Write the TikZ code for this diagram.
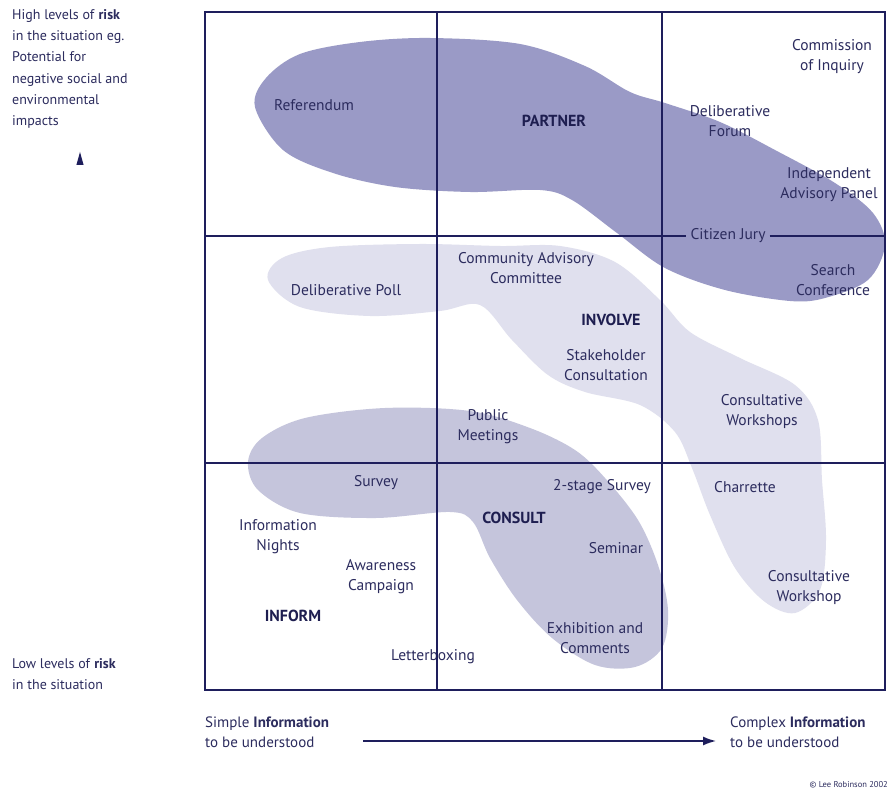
\documentclass[tikz,border=0pt]{standalone}
\usepackage{fontspec}
\setmainfont{PT Sans}
\usetikzlibrary{arrows.meta}
\definecolor{ink}{RGB}{44,44,94}
\definecolor{inkdark}{RGB}{30,30,80}
\definecolor{rule}{RGB}{30,30,92}
\definecolor{partnerfill}{RGB}{154,154,198}
\definecolor{involvefill}{RGB}{224,224,238}
\definecolor{consultfill}{RGB}{197,197,220}
\begin{document}
\begin{tikzpicture}[x=1pt,y=-1pt,
  lab/.style={font=\fontsize{15.5}{20}\selectfont, text=ink, align=center, inner sep=0pt},
  lvl/.style={font=\bfseries\fontsize{16}{20}\selectfont, text=inkdark, inner sep=0pt},
  axis/.style={font=\fontsize{14}{21.2}\selectfont, text=ink, align=left, inner sep=0pt, anchor=west},
  gridline/.style={draw=rule, line width=1.1pt},
  blob/.style={smooth cycle, tension=0.55}]
\useasboundingbox (0,0) rectangle (892,791);
\fill[white] (0,0) rectangle (892,791);

% engagement regions
\fill[involvefill] plot[blob] coordinates {(268,280) (282,258) (330,247) (420,244) (500,246) (560,246) (615,262) (660,300) (690,332) (740,358) (795,385) (818,420) (822,480) (826,540) (820,590) (795,613) (765,602) (735,568) (710,515) (692,468) (675,432) (640,405) (585,392) (548,375) (512,340) (480,305) (440,311) (370,316) (300,307)};
\fill[partnerfill] plot[blob] coordinates {(255,107) (266,78) (300,54) (360,42) (430,38) (520,44) (585,66) (630,92) (665,103) (720,122) (775,150) (835,183) (873,213) (885,245) (868,280) (825,298) (790,301) (725,290) (665,268) (617,233) (572,200) (540,190) (470,192) (395,187) (333,173) (283,150)};
\fill[consultfill] plot[blob] coordinates {(248,462) (262,438) (305,418) (385,408) (470,411) (530,428) (575,450) (605,478) (638,520) (658,565) (668,610) (662,648) (635,667) (595,665) (552,638) (517,600) (490,558) (473,522) (450,512) (376,518) (300,513) (258,490)};

% grid corners and cell boundaries
\coordinate (nw) at (205,12);
\coordinate (se) at (885,690);
\coordinate (v1t) at (437,12);
\coordinate (v1b) at (437,690);
\coordinate (v2t) at (662,12);
\coordinate (v2b) at (662,690);
\coordinate (h1l) at (205,236);
\coordinate (h1r) at (885,236);
\coordinate (h2l) at (205,463);
\coordinate (h2r) at (885,463);

% method labels
\node[lab] (comm) at (832,57) {Commission\\of Inquiry};
\node[lab] (ref) at (314,105) {Referendum};
\node[lvl] (partner) at (554,121) {PARTNER};
\node[lab] (dforum) at (730,121) {Deliberative\\Forum};
\node[lab] (indep) at (829,185) {Independent\\Advisory Panel};
\node[lab, inner sep=4pt] (cjury) at (728,236) {Citizen Jury};
\node[lab] (search) at (833,280) {Search\\Conference};
\node[lab] (cac) at (526,268) {Community Advisory\\Committee};
\node[lab] (dpoll) at (346,290) {Deliberative Poll};
\node[lvl] (involve) at (611,320) {INVOLVE};
\node[lab] (stake) at (606,365) {Stakeholder\\Consultation};
\node[lab] (pubmeet) at (488,427) {Public\\Meetings};
\node[lab] (cworks) at (762,412) {Consultative\\Workshops};
\node[lab] (survey) at (376,483) {Survey};
\node[lab] (twostage) at (602,487) {2-stage Survey};
\node[lab] (charrette) at (745,487) {Charrette};
\node[lvl] (consult) at (514,518) {CONSULT};
\node[lab] (infonight) at (278,537) {Information\\Nights};
\node[lab] (seminar) at (616,548) {Seminar};
\node[lab] (aware) at (381,577) {Awareness\\Campaign};
\node[lab] (cwork) at (809,588) {Consultative\\Workshop};
\node[lvl] (inform) at (293,616) {INFORM};
\node[lab] (exhib) at (595,638) {Exhibition and\\Comments};
\node[lab] (letter) at (433,657) {Letterboxing};

% grid
\draw[gridline] (v1t) -- (v1b);
\draw[gridline] (v2t) -- (v2b);
\draw[gridline] (h1l) -- (cjury.west);
\draw[gridline] (cjury.east) -- (h1r);
\draw[gridline] (h2l) -- (h2r);
\draw[gridline, line width=1.4pt] (nw) rectangle (se);

% risk axis
\node[axis] (riskhigh) at (12,69) {High levels of \textbf{risk}\\in the situation eg.\\Potential for\\negative social and\\environmental\\impacts};
\node[axis] (risklow) at (12,674) {Low levels of \textbf{risk}\\in the situation};
\fill[rule] (80,152) -- (83.6,165) -- (76.4,165) -- cycle;

% information axis
\node[axis, font=\fontsize{15}{20}\selectfont] (infosimple) at (205,732) {Simple \textbf{Information}\\to be understood};
\node[axis, font=\fontsize{15}{20}\selectfont] (infocomplex) at (730,732) {Complex \textbf{Information}\\to be understood};
\coordinate (arrfrom) at (363,741);
\coordinate (arrto) at (716,741);
\draw[rule, line width=1.5pt, -{Latex[length=13pt,width=9pt]}] (arrfrom) -- (arrto);

\node[font=\fontsize{8.5}{10}\selectfont, text=ink, anchor=east, inner sep=0pt] (credit) at (888,785) {© Lee Robinson 2002};
\end{tikzpicture}
\end{document}
